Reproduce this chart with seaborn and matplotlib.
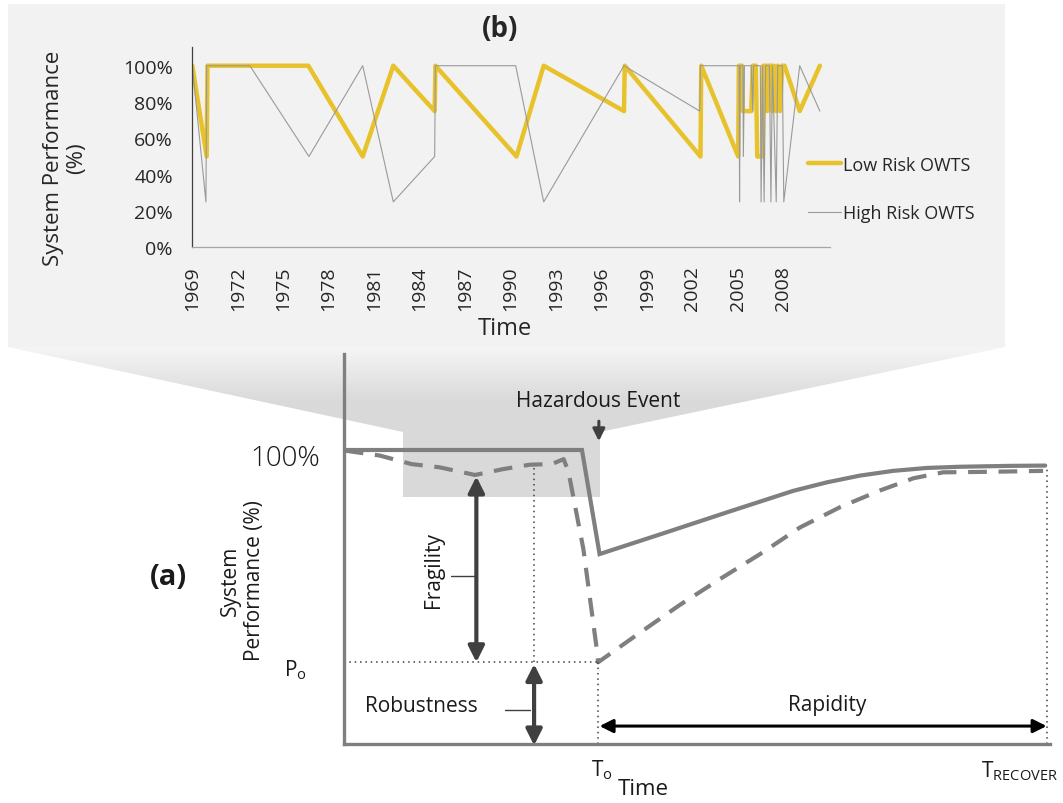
import numpy as np
import matplotlib
matplotlib.use('Agg')
import matplotlib.pyplot as plt
import seaborn as sns
from matplotlib.patches import Rectangle, Polygon
from matplotlib.colors import LinearSegmentedColormap

# ---- data: panel (b), OWTS performance record ----
low_risk_year = [1969.0, 1969.95, 1970.0, 1976.66, 1980.25, 1982.27, 1985.0, 1985.05,
                 1990.4, 1992.2, 1997.5, 1997.55, 2002.55, 2002.6, 2005.04, 2005.08,
                 2005.3, 2005.35, 2005.9, 2006.0, 2006.2, 2006.3, 2006.65, 2006.7,
                 2006.9, 2006.95, 2007.05, 2007.25, 2007.3, 2007.4, 2007.55, 2007.65,
                 2007.8, 2007.95, 2008.1, 2009.1, 2010.43]
low_risk_perf = [100, 50, 100, 100, 50, 100, 75, 100, 50, 100, 75, 100, 50, 100,
                 50, 100, 100, 75, 75, 100, 100, 50, 50, 100, 100, 75, 100,
                 100, 75, 100, 75, 100, 75, 100, 100, 75, 100]
high_risk_year = [1969.0, 1969.9, 1969.95, 1972.8, 1976.7, 1980.25, 1982.27, 1985.0,
                  1985.05, 1990.35, 1992.2, 1997.5, 2002.5, 2002.55, 2005.1, 2005.13,
                  2005.17, 2005.35, 2005.38, 2005.45, 2005.9, 2006.0, 2006.05, 2006.5,
                  2006.55, 2006.65, 2006.75, 2006.85, 2007.1, 2007.2, 2007.3, 2007.55,
                  2007.65, 2007.95, 2008.05, 2009.1, 2010.43]
high_risk_perf = [100, 25, 100, 100, 50, 100, 25, 50, 100, 100, 25, 100, 75, 100,
                  100, 25, 100, 100, 50, 100, 100, 75, 100, 100, 25, 100, 25, 100,
                  100, 25, 100, 25, 100, 100, 25, 100, 75]
year_ticks = list(range(1969, 2009, 3))
perf_ticks = [0, 20, 40, 60, 80, 100]

# ---- data: panel (a), conceptual resilience curves ----
resilient_t = [0, 33.8, 36.3, 44.9, 54.4, 63.8, 68.6, 73.3, 78.0, 82.8, 87.5, 94.6, 99.6]
resilient_perf = [100, 100, 64.6, 71.3, 78.8, 86.1, 89.0, 91.3, 92.9, 93.9, 94.3, 94.6, 94.7]
fragile_t = [0.1, 5.1, 9.6, 13.6, 18.6, 22.6, 26.4, 29.5, 31.2, 31.9, 34.0, 35.9,
             36.1, 42.0, 47.7, 53.4, 59.1, 64.8, 70.5, 76.1, 80.9, 85.1, 92.2, 99.3]
fragile_perf = [99.8, 98.1, 95.2, 94.1, 91.5, 93.5, 95.0, 95.2, 96.9, 92.4, 66.3,
                32.3, 27.8, 37.8, 47.3, 56.1, 64.6, 73.7, 80.6, 86.2, 90.4, 92.4,
                92.6, 92.9]
P_O = 27.8          # performance floor
T_O = 36.1          # time of hazardous event
T_RECOVER = 99.8    # recovery time
FRAG_X = 18.8       # where fragility is measured
FRAG_TOP = 91.0
ROBUST_X = 27.0

sns.set_style('white')
plt.rcParams['font.family'] = ['Open Sans', 'DejaVu Sans']
plt.rcParams['mathtext.fontset'] = 'custom'
plt.rcParams['mathtext.rm'] = 'Open Sans'

fig = plt.figure(figsize=(10.63, 8.04), dpi=100)

# background: grey panel + funnel pointing to the highlighted box
bg = fig.add_axes([0, 0, 1, 1])
bg.set_zorder(0)
bg.add_patch(Rectangle((8, 5), 997, 343, facecolor='#f2f2f2', edgecolor='none'))
funnel = Polygon([(8, 348), (1005, 348), (600, 433), (600, 498), (403, 498), (403, 433)],
                 closed=True, facecolor='none', edgecolor='none')
bg.add_patch(funnel)
yy = np.arange(348, 499)
shade = np.clip((yy - 348) / 55.0, 0, 1).reshape(-1, 1)
cmap = LinearSegmentedColormap.from_list('funnel', ['#f5f5f5', '#d9d9d9'])
im = bg.imshow(shade, extent=(0, 1063, 498, 348), cmap=cmap, vmin=0, vmax=1,
               aspect='auto', interpolation='bilinear')
im.set_clip_path(funnel)
bg.set_xlim(0, 1063)
bg.set_ylim(804, 0)
bg.axis('off')

# ---- panel (b) ----
ax_b = fig.add_axes([192.3 / 1063, 1 - 248.3 / 804, (830 - 192.3) / 1063, (248.3 - 48) / 804])
ax_b.set_zorder(2)
ax_b.set_facecolor('#f2f2f2')
sns.lineplot(x=low_risk_year, y=low_risk_perf, ax=ax_b, color='#e8c22a', lw=3.2,
             sort=False, estimator=None, label='Low Risk OWTS')
sns.lineplot(x=high_risk_year, y=high_risk_perf, ax=ax_b, color='#9a9a9a', lw=0.8,
             sort=False, estimator=None, label='High Risk OWTS')
ax_b.set_xlim(1969, 2011.1)
ax_b.set_ylim(0, 110.3)
ax_b.set_xticks(year_ticks)
ax_b.set_xticklabels([str(y) for y in year_ticks], rotation=90, fontsize=14)
ax_b.set_yticks(perf_ticks)
ax_b.set_yticklabels([f'{p}%' for p in perf_ticks], fontsize=14)
ax_b.tick_params(axis='x', length=0, pad=13)
ax_b.tick_params(axis='y', length=0, pad=14)
for s in ['top', 'right']:
    ax_b.spines[s].set_visible(False)
ax_b.spines['left'].set_color('#404040')
ax_b.spines['left'].set_linewidth(0.9)
ax_b.spines['bottom'].set_color('#a6a6a6')
ax_b.spines['bottom'].set_linewidth(0.9)
ax_b.set_xlabel('Time', fontsize=17)
ax_b.xaxis.set_label_coords(0.49, -0.345)
ax_b.set_ylabel('System Performance\n(%)', fontsize=16, linespacing=1.15)
ax_b.yaxis.set_label_coords(-0.165, 0.45)
ax_b.text(0.4825, 1.09, '(b)', transform=ax_b.transAxes, ha='center', va='center',
          fontsize=20, fontweight='bold')
ax_b.legend(loc='center left', bbox_to_anchor=(808 / 1063, 1 - 190 / 804),
            bbox_transform=fig.transFigure, frameon=False, fontsize=13,
            handlelength=1.8, handletextpad=0.15, labelspacing=1.7,
            borderpad=0, borderaxespad=0)

# ---- panel (a) ----
ax_a = fig.add_axes([344 / 1063, 1 - 745 / 804, (1050 - 344) / 1063, (745 - 355) / 804])
ax_a.set_zorder(1)
ax_a.set_facecolor('none')
ax_a.set_xlim(0, 100.28)
ax_a.set_ylim(0, 132.65)
sns.lineplot(x=resilient_t, y=resilient_perf, ax=ax_a, color='#7f7f7f', lw=3,
             sort=False, estimator=None, solid_joinstyle='miter')
sns.lineplot(x=fragile_t, y=fragile_perf, ax=ax_a, color='#7f7f7f', lw=3,
             sort=False, estimator=None, linestyle=(0, (4.5, 2.8)))
for s in ['top', 'right']:
    ax_a.spines[s].set_visible(False)
for s in ['left', 'bottom']:
    ax_a.spines[s].set_color('#7f7f7f')
    ax_a.spines[s].set_linewidth(2.4)
ax_a.set_xticks([])
ax_a.set_yticks([])

dot = dict(color='#404040', lw=1.1, linestyle=(0, (1, 2.5)))
ax_a.plot([0, T_O], [P_O, P_O], **dot)
ax_a.plot([ROBUST_X, ROBUST_X], [P_O, 95.0], **dot)
ax_a.plot([T_O, T_O], [0, P_O], **dot)
ax_a.plot([T_RECOVER, T_RECOVER], [0, 94.7], **dot)

dark = '#404040'
ax_a.annotate('', xy=(FRAG_X, FRAG_TOP), xytext=(FRAG_X, P_O),
              arrowprops=dict(arrowstyle='<|-|>', color=dark, lw=3, mutation_scale=24,
                              shrinkA=0, shrinkB=0))
ax_a.annotate('', xy=(ROBUST_X, P_O - 0.6), xytext=(ROBUST_X, -0.5),
              arrowprops=dict(arrowstyle='<|-|>', color=dark, lw=3, mutation_scale=24,
                              shrinkA=0, shrinkB=0))
ax_a.annotate('', xy=(T_RECOVER, 6.1), xytext=(T_O + 0.2, 6.1),
              arrowprops=dict(arrowstyle='<|-|>', color='black', lw=2.2, mutation_scale=20,
                              shrinkA=0, shrinkB=0))
ax_a.annotate('', xy=(T_O + 0.1, 103.0), xytext=(T_O + 0.1, 109.8),
              arrowprops=dict(arrowstyle='-|>', color=dark, lw=2.2, mutation_scale=18,
                              shrinkA=0, shrinkB=0))
ax_a.plot([FRAG_X - 3.6, FRAG_X], [57.2, 57.2], color=dark, lw=1)
ax_a.plot([ROBUST_X - 4.1, ROBUST_X - 0.6], [11.6, 11.6], color=dark, lw=1)

tc = '#1a1a1a'
ax_a.text(T_O, 116.7, 'Hazardous Event', ha='center', va='center', fontsize=15, color=tc)
ax_a.text(FRAG_X - 6.1, 59.5, 'Fragility', rotation=90, ha='center', va='center',
          fontsize=15, color=tc)
ax_a.text(11.0, 13.0, 'Robustness', ha='center', va='center', fontsize=15, color=tc)
ax_a.text(68.6, 13.6, 'Rapidity', ha='center', va='center', fontsize=15, color=tc)
ax_a.text(-3.4, 97.4, '100%', ha='right', va='center', fontsize=20, fontweight='light',
          color=tc)
ax_a.text(-5.3, 25.5, r'P$_{\mathrm{o}}$', ha='right', va='center', fontsize=15, color=tc)
ax_a.text(T_O + 0.6, -8.5, r'T$_{\mathrm{o}}$', ha='center', va='center', fontsize=15, color=tc)
ax_a.text(T_RECOVER - 3.8, -8.8, r'T$_{\mathrm{RECOVER}}$', ha='center', va='center',
          fontsize=15, color=tc)
ax_a.text(42.5, -15.3, 'Time', ha='center', va='center', fontsize=16, color=tc)
ax_a.text(-14.4, 55.8, 'System\nPerformance (%)', rotation=90, ha='center', va='center',
          fontsize=15, color=tc, linespacing=1.15)
ax_a.text(-25.0, 57.1, '(a)', ha='center', va='center', fontsize=21, fontweight='bold',
          color=tc)

fig.savefig('out.png', dpi=100)
